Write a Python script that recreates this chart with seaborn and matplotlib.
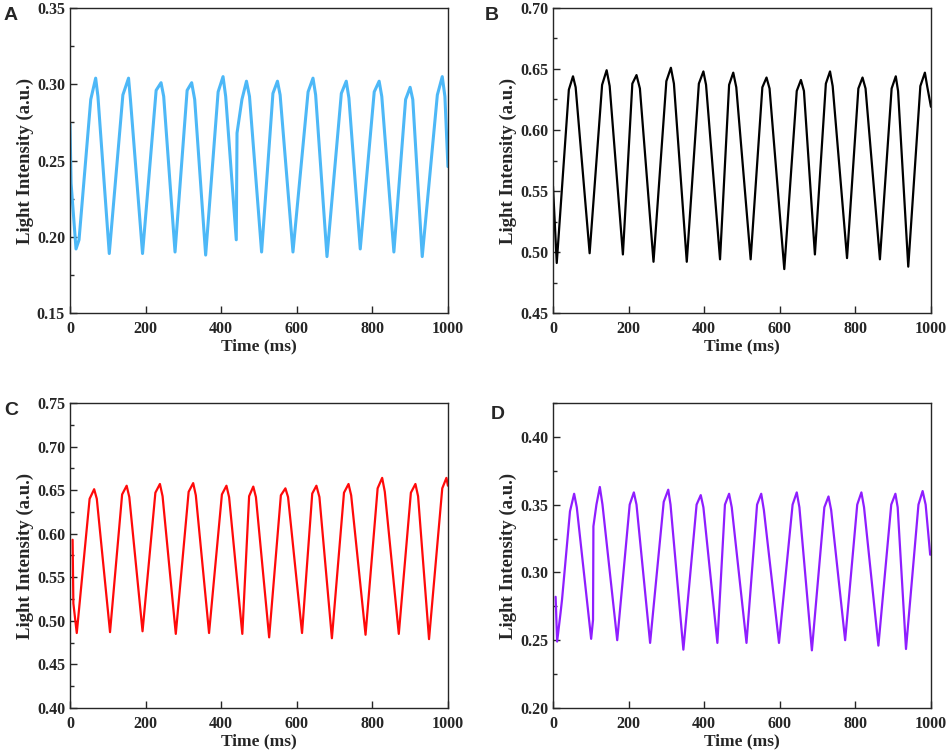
import numpy as np
import pandas as pd
import matplotlib
matplotlib.use("Agg")
import matplotlib.pyplot as plt
import seaborn as sns
from matplotlib.ticker import MultipleLocator, FormatStrFormatter

# -----------------------------
# Data (extrema + shoulders)
# -----------------------------

time_a = [0, 3, 16, 24, 55, 68, 74, 104, 140, 155, 160, 192, 228, 241, 248, 278,
          310, 322, 330, 359, 392, 405, 412, 440, 442, 455, 467, 475, 507, 537,
          549, 556, 590, 630, 643, 650, 680, 718, 731, 738, 768, 805, 818, 825,
          857, 888, 900, 907, 932, 972, 985, 992, 1000]
light_a = [0.274, 0.235, 0.192, 0.198, 0.290, 0.304, 0.292, 0.189, 0.293, 0.304,
           0.290, 0.189, 0.296, 0.301, 0.292, 0.190, 0.296, 0.301, 0.290, 0.188,
           0.295, 0.305, 0.292, 0.198, 0.268, 0.290, 0.302, 0.292, 0.190, 0.294,
           0.302, 0.293, 0.190, 0.295, 0.304, 0.293, 0.187, 0.294, 0.302, 0.291,
           0.192, 0.295, 0.302, 0.292, 0.190, 0.290, 0.298, 0.290, 0.187, 0.293,
           0.305, 0.292, 0.246]

time_b = [0, 10, 42, 53, 60, 97, 130, 142, 150, 185, 210, 221, 230, 266, 300, 312,
          320, 354, 386, 398, 405, 442, 466, 477, 485, 523, 554, 565, 573, 612,
          645, 656, 664, 693, 722, 733, 740, 778, 808, 819, 827, 865, 896, 907,
          913, 940, 972, 984, 990, 1000]
light_b = [0.554, 0.491, 0.633, 0.644, 0.635, 0.499, 0.637, 0.649, 0.636, 0.498,
           0.638, 0.645, 0.634, 0.492, 0.640, 0.651, 0.638, 0.492, 0.638, 0.648,
           0.637, 0.494, 0.637, 0.647, 0.635, 0.494, 0.635, 0.643, 0.634, 0.486,
           0.632, 0.641, 0.632, 0.498, 0.638, 0.648, 0.636, 0.495, 0.634, 0.643,
           0.634, 0.494, 0.634, 0.644, 0.632, 0.488, 0.636, 0.647, 0.636, 0.619]

time_c = [7, 9, 18, 52, 64, 71, 106, 138, 150, 157, 192, 226, 238, 245, 280, 314,
          326, 333, 368, 402, 414, 421, 456, 474, 485, 492, 527, 558, 570, 577,
          614, 641, 652, 660, 693, 725, 737, 744, 782, 814, 826, 833, 870, 902,
          914, 921, 950, 985, 996, 1000]
light_c = [0.593, 0.520, 0.486, 0.640, 0.651, 0.640, 0.487, 0.645, 0.655, 0.642,
           0.488, 0.647, 0.657, 0.643, 0.485, 0.648, 0.658, 0.644, 0.486, 0.645,
           0.655, 0.642, 0.485, 0.643, 0.654, 0.642, 0.481, 0.644, 0.652, 0.642,
           0.486, 0.646, 0.655, 0.642, 0.480, 0.647, 0.657, 0.644, 0.484, 0.652,
           0.664, 0.648, 0.485, 0.647, 0.657, 0.643, 0.479, 0.652, 0.664, 0.655]

time_d = [7, 11, 20, 24, 45, 56, 63, 101, 106, 107, 115, 124, 131, 170, 203, 214,
          221, 257, 293, 305, 311, 345, 380, 391, 398, 435, 455, 466, 473, 512,
          540, 551, 558, 598, 634, 645, 652, 685, 718, 729, 736, 773, 805, 816,
          823, 861, 895, 906, 912, 934, 967, 978, 986, 998]
light_d = [0.282, 0.249, 0.270, 0.280, 0.345, 0.358, 0.348, 0.251, 0.265, 0.334,
           0.350, 0.363, 0.350, 0.250, 0.350, 0.359, 0.350, 0.248, 0.352, 0.361,
           0.350, 0.243, 0.350, 0.357, 0.348, 0.248, 0.350, 0.358, 0.348, 0.248,
           0.350, 0.358, 0.346, 0.248, 0.350, 0.359, 0.348, 0.2425, 0.348, 0.356,
           0.346, 0.250, 0.350, 0.359, 0.348, 0.246, 0.350, 0.358, 0.348, 0.2435,
           0.350, 0.360, 0.350, 0.313]

panels = [
    ("A", time_a, light_a, "#4db8f7", 2.2, (0.15, 0.35), 0.05),
    ("B", time_b, light_b, "#000000", 1.6, (0.45, 0.70), 0.05),
    ("C", time_c, light_c, "#ff0a0a", 1.6, (0.40, 0.75), 0.05),
    ("D", time_d, light_d, "#8f1eff", 1.6, (0.20, 0.425), 0.05),
]

# -----------------------------
# Style
# -----------------------------

sns.set_style("ticks")
plt.rcParams["font.family"] = ["Liberation Serif", "DejaVu Serif"]
plt.rcParams["font.weight"] = "bold"

fig = plt.figure(figsize=(9.48, 7.53), dpi=100)

positions = {
    "A": [0.0738, 0.5843, 0.3987, 0.4051],
    "B": [0.5833, 0.5843, 0.3987, 0.4051],
    "C": [0.0738, 0.0598, 0.3987, 0.4051],
    "D": [0.5833, 0.0598, 0.3987, 0.4051],
}
letter_xy = {"A": (0.004, 0.980), "B": (0.511, 0.980), "C": (0.004, 0.455), "D": (0.518, 0.449)}

for name, t, y, color, lw, ylim, step in panels:
    ax = fig.add_axes(positions[name])
    df = pd.DataFrame({"Time": t, "Light": y})
    sns.lineplot(data=df, x="Time", y="Light", ax=ax, color=color, lw=lw,
                 sort=False, estimator=None)
    ax.set_xlim(0, 1000)
    ax.set_ylim(*ylim)
    ax.set_xticks(np.arange(0, 1001, 200))
    ax.yaxis.set_major_locator(MultipleLocator(step))
    ax.yaxis.set_minor_locator(MultipleLocator(step / 2))
    ax.yaxis.set_major_formatter(FormatStrFormatter("%.2f"))
    ax.tick_params(axis="both", which="major", direction="in", length=5, width=1,
                   labelsize=11.5, top=False, right=False)
    ax.tick_params(axis="x", which="major", pad=6)
    ax.tick_params(axis="y", which="minor", direction="in", length=3, width=1)
    for lab in ax.get_xticklabels() + ax.get_yticklabels():
        lab.set_fontweight("bold")
    for sp in ax.spines.values():
        sp.set_linewidth(1.0)
        sp.set_visible(True)
    ax.set_xlabel("Time (ms)", fontsize=12.5, fontweight="bold", labelpad=1)
    ax.set_ylabel("Light Intensity (a.u.)", fontsize=13.5, fontweight="bold", labelpad=2)
    fig.text(letter_xy[name][0], letter_xy[name][1], name, fontsize=14, fontweight="bold",
             family="Liberation Sans", va="center", ha="left")

fig.savefig("out.png", dpi=100)
